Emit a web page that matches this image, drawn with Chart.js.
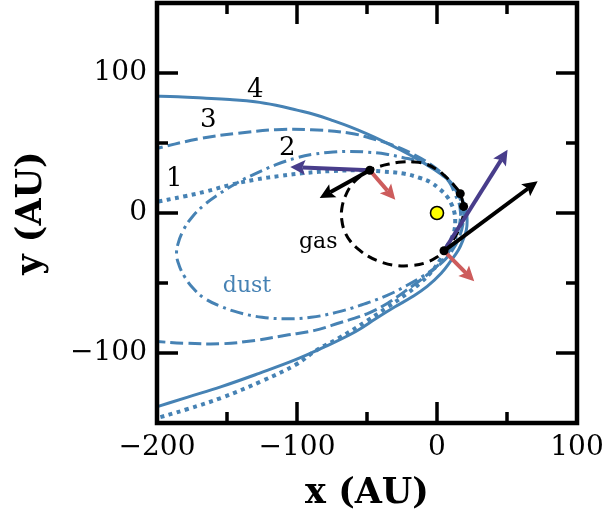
<!DOCTYPE html>
<html><head><meta charset="utf-8">
<script src="https://cdn.jsdelivr.net/npm/chart.js@4.4.1/dist/chart.umd.min.js"></script>
<style>html,body{margin:0;padding:0;background:#fff;}</style>
</head><body>
<canvas id="c" width="608" height="517"></canvas>
<script>
// ---- tick values ----
const xTickLabels = [-200, -100, 0, 100];
const yTickLabels = [-100, 0, 100];
const xMinorTicks = [-150, -50, 50];
const yMinorTicks = [-150, -50, 50, 150];
const xMajorTicks = [-200, -100, 0, 100];
const yMajorTicks = [-100, 0, 100];

// ---- dust trajectory 4 (solid) ----
const orbit4X = [-205, -185, -165, -148, -130, -115, -100, -87, -75, -62, -50, -38, -26, -14, -2, 7, 12, 15.5, 19, 21, 21.5, 21, 18.5, 15.4, 10, 3, -7, -18, -30, -43, -58, -80, -101, -127, -154, -178, -205];
const orbit4Y = [83.5, 83, 82, 81, 79.5, 77, 73.5, 70.2, 66.2, 61.5, 56.5, 51, 45, 38.5, 31, 24.5, 19.5, 14, 7.5, 1, -5, -12, -19.5, -26.2, -34, -43, -52.4, -60, -67, -75, -84.6, -95.5, -104.8, -114.5, -124, -131.5, -140];

// ---- dust trajectory 3 (dashed) ----
const orbit3X = [-205, -170, -142, -115, -90, -62, -48, -33, -19, -5, 7, 13, 17, 19, 18.5, 16, 12, 6, -2, -12, -23, -35, -50, -70, -88, -106, -130, -154, -180, -205];
const orbit3Y = [45, 53, 57, 59.5, 59.5, 57, 53.6, 49, 43, 35, 25, 17, 9, 0, -8, -17, -25, -33, -40, -48, -56, -64.3, -72, -78.6, -84, -87, -91, -93.4, -93, -91.5];

// ---- dust orbit 2 (dash-dot, bound "dust" orbit) ----
const orbit2X = [17, 16, 13, 9.5, 3, -5, -15, -24, -36, -50, -62, -74, -88, -100, -115, -130, -142, -155, -166, -175, -181, -185, -186, -184, -180, -174, -166, -155, -142, -125, -107, -90, -72, -55, -36, -22, -10, 0, 7, 12, 15.5, 17];
const orbit2Y = [-2, 6, 13, 21, 28, 33.5, 37.5, 39.5, 42, 43.5, 44, 43.5, 42, 39.5, 34.5, 28, 22, 14, 6, -3, -12, -22, -30, -38, -46, -54, -61, -66.5, -71, -74.5, -75.5, -74.5, -71, -66, -59, -52, -45, -38, -30, -21, -11, -2];

// ---- dust trajectory 1 (dotted) ----
const orbit1X = [-205, -180, -165, -148, -130, -112, -94, -75, -56, -40, -24, -12, -4.8, 2, 7, 10.5, 12.5, 13, 12.5, 10, 7, 2.5, -4, -12, -22, -35, -50, -70, -86, -101, -125, -154, -178, -205];
const orbit1Y = [7, 12, 15.4, 20, 23.8, 26.5, 28.6, 30, 30.5, 29.7, 28.2, 25, 22, 17, 12, 6, 0, -5, -12, -19, -24, -33, -42, -50, -58, -67, -77, -89.3, -98, -108.4, -120, -132, -140, -148];

// ---- gas orbit (black dashed) ----
const gasX = [19, 16.6, 12, 5, 0, -8, -17, -25, -34, -42, -48, -55, -61, -65.5, -68, -68, -66, -62, -56, -49, -40, -29, -18, -8, 0, 5, 11, 16, 18.5, 19];
const gasY = [4.7, 13.8, 20, 27, 31, 35, 36.5, 36.5, 35, 33, 30.5, 26, 20, 12, 3, -5, -13, -20, -26, -31, -35, -37.5, -37.5, -35.5, -31.5, -27, -20, -11, -3, 4.7];

// ---- velocity / force arrows: [x0, y0, x1, y1] ----
const arrowsPurple = [[-48, 30.5, -104.8, 32.9], [5, -27, 50.4, 45.2]];
const arrowsBlack  = [[-48, 30.5, -83.8, 10.7], [5, -27, 71.9, 22.6]];
const arrowsRed    = [[-48, 30.5, -29.8, 9.5], [5, -27, 26.6, -48.8]];

// ---- gas positions (dots) and star ----
const dotX = [-48, 16.6, 19, 5];
const dotY = [30.5, 13.8, 4.7, -27];
const starX = [0];
const starY = [0];

// ---- text labels ----
const labelText = ['4', '3', '2', '1', 'gas', 'dust'];
const labelX = [-129.8, -163.4, -106.9, -187.6, -84.8, -135.7];
const labelY = [87.5, 66.6, 46.6, 23.8, -21.2, -52.4];

const BLUE = 'rgb(70,130,180)';
const PURPLE = 'rgb(72,61,139)';
const RED = 'rgb(205,92,92)';
const FONT = "'DejaVu Serif', serif";

function pts(xs, ys) { return xs.map((x, i) => ({x: x, y: ys[i]})); }
function fmt(v) { return v < 0 ? '\u2212' + Math.abs(v) : String(v); }

function drawArrow(ctx, xs, ys, a, color) {
  const x0 = xs.getPixelForValue(a[0]), y0 = ys.getPixelForValue(a[1]);
  const x1 = xs.getPixelForValue(a[2]), y1 = ys.getPixelForValue(a[3]);
  const dx = x1 - x0, dy = y1 - y0, L = Math.hypot(dx, dy);
  const ux = dx / L, uy = dy / L;
  const hl = 15, hw = 7.5;
  const bx = x1 - ux * hl, by = y1 - uy * hl;
  ctx.save();
  ctx.strokeStyle = color; ctx.fillStyle = color;
  ctx.lineWidth = 4; ctx.lineCap = 'butt';
  ctx.beginPath(); ctx.moveTo(x0, y0); ctx.lineTo(bx + ux * 3, by + uy * 3); ctx.stroke();
  ctx.beginPath();
  ctx.moveTo(x1, y1);
  ctx.lineTo(bx - uy * hw, by + ux * hw);
  ctx.lineTo(bx + ux * 3, by + uy * 3);
  ctx.lineTo(bx + uy * hw, by - ux * hw);
  ctx.closePath(); ctx.fill();
  ctx.restore();
}

const overlay = {
  id: 'overlay',
  afterDatasetsDraw(chart) {
    const ctx = chart.ctx, xs = chart.scales.x, ys = chart.scales.y;
    arrowsRed.forEach(a => drawArrow(ctx, xs, ys, a, RED));
    arrowsPurple.forEach(a => drawArrow(ctx, xs, ys, a, PURPLE));
    arrowsBlack.forEach(a => drawArrow(ctx, xs, ys, a, '#000'));
    ctx.save();
    ctx.fillStyle = '#000';
    dotX.forEach((x, i) => {
      ctx.beginPath();
      ctx.arc(xs.getPixelForValue(x), ys.getPixelForValue(dotY[i]), 4.5, 0, Math.PI * 2);
      ctx.fill();
    });
    starX.forEach((x, i) => {
      ctx.beginPath();
      ctx.arc(xs.getPixelForValue(x), ys.getPixelForValue(starY[i]), 6.5, 0, Math.PI * 2);
      ctx.fillStyle = '#ffff00'; ctx.fill();
      ctx.lineWidth = 1.6; ctx.strokeStyle = '#000'; ctx.stroke();
    });
    ctx.textAlign = 'center'; ctx.textBaseline = 'middle';
    labelText.forEach((t, i) => {
      const isWord = t.length > 1;
      ctx.font = (isWord ? 22 : 26) + 'px ' + FONT;
      ctx.fillStyle = t === 'dust' ? BLUE : '#000';
      ctx.fillText(t, xs.getPixelForValue(labelX[i]), ys.getPixelForValue(labelY[i]));
    });
    ctx.restore();
  },
  afterDraw(chart) {
    const ctx = chart.ctx, a = chart.chartArea, xs = chart.scales.x, ys = chart.scales.y;
    ctx.save();
    ctx.strokeStyle = '#000'; ctx.lineCap = 'butt';
    ctx.lineWidth = 3.5;
    const tick = (vals, len, horiz) => {
      vals.forEach(v => {
        ctx.beginPath();
        if (horiz) {
          const p = xs.getPixelForValue(v);
          ctx.moveTo(p, a.bottom); ctx.lineTo(p, a.bottom - len);
          ctx.moveTo(p, a.top); ctx.lineTo(p, a.top + len);
        } else {
          const p = ys.getPixelForValue(v);
          ctx.moveTo(a.left, p); ctx.lineTo(a.left + len, p);
          ctx.moveTo(a.right, p); ctx.lineTo(a.right - len, p);
        }
        ctx.stroke();
      });
    };
    tick(xMajorTicks, 21, true); tick(xMinorTicks, 11, true);
    tick(yMajorTicks, 21, false); tick(yMinorTicks, 11, false);
    ctx.lineWidth = 4.5;
    ctx.strokeRect(a.left, a.top, a.right - a.left, a.bottom - a.top);
    ctx.restore();
  }
};

const common = {showLine: true, pointRadius: 0, pointHoverRadius: 0, fill: false, tension: 0.4, borderCapStyle: 'butt'};

function zeroPad(s) { s.paddingTop = 0; s.paddingBottom = 0; s.paddingLeft = 0; s.paddingRight = 0; }

new Chart(document.getElementById('c'), {
  type: 'scatter',
  data: {
    datasets: [
      Object.assign({data: pts(gasX, gasY), borderColor: '#000', borderWidth: 3, borderDash: [10, 6]}, common),
      Object.assign({data: pts(orbit1X, orbit1Y), borderColor: BLUE, borderWidth: 4, borderDash: [4, 4.5]}, common),
      Object.assign({data: pts(orbit2X, orbit2Y), borderColor: BLUE, borderWidth: 3, borderDash: [13, 5, 3, 5]}, common),
      Object.assign({data: pts(orbit3X, orbit3Y), borderColor: BLUE, borderWidth: 3, borderDash: [13, 5]}, common),
      Object.assign({data: pts(orbit4X, orbit4Y), borderColor: BLUE, borderWidth: 3}, common)
    ]
  },
  options: {
    responsive: false, animation: false, devicePixelRatio: 1,
    layout: {padding: {left: 0, top: 3, right: 31, bottom: 0}},
    plugins: {legend: {display: false}, tooltip: {enabled: false}},
    scales: {
      x: {
        type: 'linear', min: -200, max: 100,
        grid: {display: false, drawTicks: false}, border: {display: false},
        afterBuildTicks: s => { s.ticks = xTickLabels.map(v => ({value: v})); },
        afterFit: s => { s.height = 94; zeroPad(s); },
        ticks: {font: {family: FONT, size: 28}, color: '#000', padding: 8, maxRotation: 0, autoSkip: false, callback: v => fmt(v)},
        title: {display: true, text: 'x (AU)', color: '#000', font: {family: FONT, size: 35, weight: 'bold'}, padding: {top: 0, bottom: 2}}
      },
      y: {
        type: 'linear', min: -150, max: 150,
        grid: {display: false, drawTicks: false}, border: {display: false},
        afterBuildTicks: s => { s.ticks = yTickLabels.map(v => ({value: v})); },
        afterFit: s => { s.width = 157; zeroPad(s); },
        ticks: {font: {family: FONT, size: 28}, color: '#000', padding: 10, autoSkip: false, callback: v => fmt(v)},
        title: {display: true, text: 'y (AU)', color: '#000', font: {family: FONT, size: 35, weight: 'bold'}, padding: {top: 11, bottom: 0}}
      }
    }
  },
  plugins: [overlay]
});
</script>
</body></html>
